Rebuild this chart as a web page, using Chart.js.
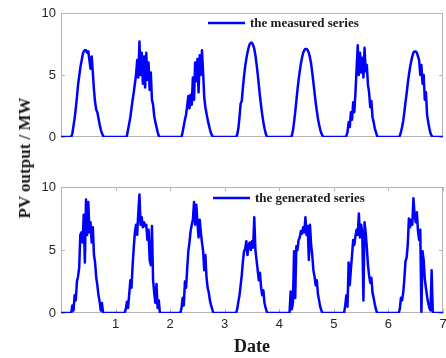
<!DOCTYPE html>
<html>
<head>
<meta charset="utf-8">
<script src="https://cdn.jsdelivr.net/npm/chart.js@4.4.0/dist/chart.umd.min.js"></script>
<style>
  body { margin: 0; background: #fff; }
  #wrap { position: relative; width: 446px; height: 358px; background: #fff; }
  canvas { position: absolute; left: 0; }
  #topChart { top: 0; }
  #bottomChart { top: 170px; }
  #yTitle {
    position: absolute; left: 25px; top: 158px;
    transform: translate(-50%, -50%) rotate(-90deg);
    font: bold 17px "Liberation Serif", serif; color: #1a1a1a; white-space: nowrap;
  }
</style>
</head>
<body>
<div id="wrap">
  <canvas id="topChart" width="446" height="170"></canvas>
  <canvas id="bottomChart" width="446" height="188"></canvas>
  <div id="yTitle">PV output / MW</div>
</div>
<script>
// one value every 30 min (48 per day), one line per day
const stepsPerDay = 48;

const measured = [
  0,0,0,0,0,0,0,0,0, 0,0.3,0.9,1.5,2.3,3.2,4.2,4.9,5.6,6.1,6.6,6.9,7.0,7.0,6.8,6.9,6.2,5.5,6.5,5.2,3.8,2.8,2.2,2.0,1.5,1.0,0.6,0.3,0.1,0,0,0, 0,0,0,0,0,0,0,
  0,0,0,0,0,0,0,0,0, 0,0.1,0.6,1.1,1.6,2.3,3.0,3.6,4.3,5.0,6.2,4.8,7.7,5.0,6.8,4.3,6.5,4.0,6.8,4.6,6.0,3.8,5.2,3.0,2.6,1.7,1.2,0.8,0.4,0.1,0,0, 0,0,0,0,0,0,0,
  0,0,0,0,0,0,0,0,0, 0,0,0.4,0.9,1.4,1.8,2.5,3.3,2.3,3.4,2.6,4.8,3.0,6.0,4.5,6.3,3.6,6.6,5.0,7.0,5.2,3.2,2.4,1.9,1.4,1.0,0.6,0.3,0.1,0,0,0, 0,0,0,0,0,0,0,
  0,0,0,0,0,0,0,0,0, 0,0,0.2,0.7,1.6,2.7,2.9,4.0,4.9,5.7,6.3,6.8,7.2,7.5,7.6,7.6,7.4,7.1,6.6,5.9,5.1,4.2,3.3,2.5,1.8,1.2,0.7,0.3,0.05,0,0,0, 0,0,0,0,0,0,0,
  0,0,0,0,0,0,0,0,0, 0,0,0.1,0.5,1.2,2.0,2.9,3.8,4.6,5.3,5.9,6.4,6.8,7.0,7.1,7.1,7.0,6.8,6.4,5.9,5.2,4.4,3.6,2.8,2.1,1.5,1.0,0.6,0.3,0.1,0,0, 0,0,0,0,0,0,0,
  0,0,0,0,0,0,0,0,0, 0,0,0.1,0.4,1.2,0.8,2.0,1.4,2.8,2.0,3.6,5.5,7.4,5.0,6.8,5.2,6.4,4.8,7.2,5.3,5.8,4.2,3.6,2.4,2.9,1.6,1.2,0.7,0.4,0.1,0,0, 0,0,0,0,0,0,0,
  0,0,0,0,0,0,0,0,0, 0,0.1,0.4,0.8,1.3,2.0,2.8,3.5,4.3,5.0,5.6,6.1,6.5,6.8,6.9,6.9,6.8,6.5,6.2,5.0,5.8,4.3,5.0,3.0,3.6,1.8,1.2,0.7,0.3,0.1,0,0, 0,0,0,0,0,0,0,
  0
];

const generated = [
  0,0,0,0,0,0,0,0,0, 0,0.6,0.2,1.4,1.0,2.5,2.9,3.6,6.2,6.4,5.6,7.8,4.0,9.0,6.2,8.8,6.4,7.2,5.6,6.8,4.6,4.0,2.8,2.2,1.4,0.9,0.2,0.8,0,0,0,0, 0,0,0,0,0,0,0,
  0,0,0,0,0,0,0,0,0, 0.3,0.9,0.4,1.5,2.6,2.0,3.8,5.2,6.4,7.0,6.2,8.0,9.4,7.0,7.6,6.8,7.2,6.9,7.0,5.8,6.6,4.2,3.8,6.9,2.6,1.6,0.8,2.3,0.4,1.0,0,0, 0,0,0,0,0,0,0,
  0,0,0,0,0,0,0,0,0, 0,0.4,1.2,0.6,2.5,2.0,3.5,4.9,5.6,6.5,7.0,7.4,8.8,7.0,8.6,7.2,6.0,7.4,6.4,5.6,4.9,3.4,4.6,2.8,2.0,1.6,1.0,0.6,0.3,0,0,0, 0,0,0,0,0,0,0,
  0,0,0,0,0,0,0,0,0, 0,0,0.3,0.9,1.4,2.2,3.0,4.1,4.9,5.1,5.7,4.6,5.4,5.6,5.0,5.7,5.2,7.6,5.0,4.2,3.4,2.6,3.2,2.0,1.4,1.8,0.8,0.4,0.1,0,0,0, 0,0,0,0,0,0,0,
  0,0,0,0,0,0,0,0,0, 0,1.7,0.3,0.8,4.9,1.2,5.3,5.0,5.8,6.0,6.5,6.3,6.8,6.4,7.6,6.2,6.9,4.2,7.0,5.4,4.6,3.4,2.9,2.2,2.6,1.5,1.0,0.5,0.2,0,0,0, 0,0,0,0,0,0,0,
  0,0,0,0,0,0,0,0,0, 0,0.6,1.4,0.5,4.0,2.2,3.5,4.6,5.8,5.4,6.1,6.6,6.2,7.9,6.0,7.0,6.4,1.0,7.2,6.4,5.2,3.8,3.0,2.4,2.8,1.6,1.2,0.7,0.3,0,0,0, 0,0,0,0,0,0,0,
  0,0,0,0,0,0,0,0,0, 0,0.3,1.2,1.0,1.6,2.7,4.1,4.4,5.4,7.5,6.8,7.4,7.0,9.1,7.8,7.2,8.0,6.5,5.8,6.6,0.1,4.9,4.2,2.7,2.0,1.3,0.8,0.4,0.2,3.4,0.1,0, 0,0,0,0,0,0,0,
  0
];

const xTicks = [1, 2, 3, 4, 5, 6, 7];
const yTicks = [0, 5, 10];
const seriesNames = ['the measured series', 'the generated series'];

const lineColor = '#0000ff';
const boxColor = '#b4b4b4';
const tickFont = { family: 'Liberation Sans', size: 13 };

function toPoints(values) {
    return values.map((v, i) => ({ x: i / stepsPerDay, y: v }));
}

// caixa cinza em volta e marcas de escala para dentro
const framePlugin = {
    id: 'frame',
    beforeDatasetsDraw(chart, args, opts) {
        const { ctx, chartArea: a, scales } = chart;
        ctx.save();
        ctx.strokeStyle = boxColor;
        ctx.lineWidth = 1;
        ctx.strokeRect(a.left + 0.5, a.top + 0.5, a.width - 1, a.height - 1);
        ctx.beginPath();
        yTicks.forEach(v => {
            const py = Math.round(scales.y.getPixelForValue(v)) + 0.5;
            ctx.moveTo(a.left, py); ctx.lineTo(a.left + 4, py);
            ctx.moveTo(a.right - 4, py); ctx.lineTo(a.right, py);
        });
        if (opts.xTicks) {
            xTicks.forEach(v => {
                const px = Math.round(scales.x.getPixelForValue(v)) + 0.5;
                ctx.moveTo(px, a.top); ctx.lineTo(px, a.top + 4);
                ctx.moveTo(px, a.bottom - 4); ctx.lineTo(px, a.bottom);
            });
        }
        ctx.stroke();
        ctx.restore();
    }
};

// legenda dentro do grafico
const legendPlugin = {
    id: 'pvLegend',
    afterDraw(chart, args, opts) {
        const { ctx } = chart;
        ctx.save();
        ctx.strokeStyle = lineColor;
        ctx.lineWidth = 2.5;
        ctx.beginPath();
        ctx.moveTo(opts.x1, opts.y);
        ctx.lineTo(opts.x2, opts.y);
        ctx.stroke();
        ctx.fillStyle = '#1a1a1a';
        ctx.font = 'bold 13px "Liberation Serif"';
        ctx.textBaseline = 'middle';
        ctx.fillText(opts.text, opts.x2 + 5, opts.y + 1);
        ctx.restore();
    }
};

function yScale() {
    return {
        type: 'linear',
        min: 0,
        max: 10,
        afterBuildTicks: axis => { axis.ticks = yTicks.map(v => ({ value: v })); },
        afterFit: axis => { axis.width = 61; axis.paddingTop = 0; axis.paddingBottom = 0; },
        grid: { display: false, drawTicks: false },
        border: { display: false },
        ticks: { padding: 5, color: '#262626', font: tickFont }
    };
}

function dataset(values) {
    return {
        data: toPoints(values),
        borderColor: lineColor,
        borderWidth: 2.5,
        borderJoinStyle: 'round',
        pointRadius: 0,
        tension: 0,
        fill: false
    };
}

// Serie medida
const topChart = new Chart(document.getElementById('topChart'), {
    type: 'line',
    data: { datasets: [dataset(measured)] },
    plugins: [framePlugin, legendPlugin],
    options: {
        responsive: false,
        animation: false,
        layout: { padding: { top: 13, right: 3, bottom: 33, left: 0 } },
        plugins: {
            legend: { display: false },
            tooltip: { enabled: false },
            frame: { xTicks: false },
            pvLegend: { text: seriesNames[0], x1: 208, x2: 245, y: 23 }
        },
        scales: {
            x: { type: 'linear', min: 0, max: 7, display: false },
            y: yScale()
        }
    }
});

// Serie gerada
const bottomChart = new Chart(document.getElementById('bottomChart'), {
    type: 'line',
    data: { datasets: [dataset(generated)] },
    plugins: [framePlugin, legendPlugin],
    options: {
        responsive: false,
        animation: false,
        layout: { padding: { top: 17, right: 3, bottom: 0, left: 0 } },
        plugins: {
            legend: { display: false },
            tooltip: { enabled: false },
            frame: { xTicks: true },
            pvLegend: { text: seriesNames[1], x1: 213, x2: 250, y: 28 }
        },
        scales: {
            x: {
                type: 'linear',
                min: 0,
                max: 7,
                afterBuildTicks: axis => { axis.ticks = xTicks.map(v => ({ value: v })); },
                afterFit: axis => { axis.height = 45; axis.paddingLeft = 0; axis.paddingRight = 0; },
                grid: { display: false, drawTicks: false },
                border: { display: false },
                ticks: { padding: 4, maxRotation: 0, color: '#262626', font: tickFont },
                title: {
                    display: true,
                    text: 'Date',
                    color: '#1a1a1a',
                    font: { family: 'Liberation Serif', size: 18, weight: 'bold' },
                    padding: { top: 0, bottom: 0 }
                }
            },
            y: yScale()
        }
    }
});
</script>
</body>
</html>
